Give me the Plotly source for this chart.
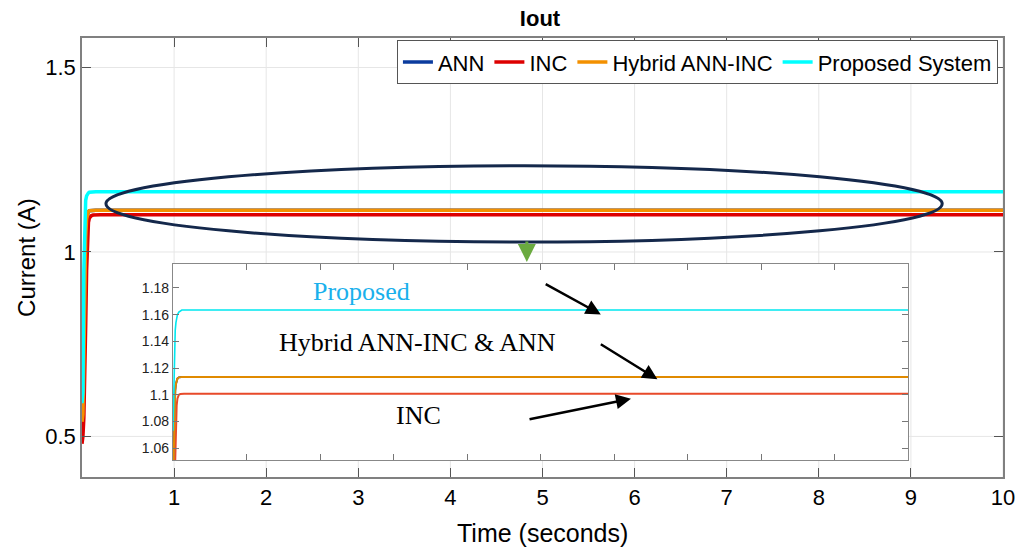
import plotly.graph_objects as go

# ---------------- data ----------------
# main plot time base (s)
t_main = [0.0, 0.01, 0.02, 0.03, 0.04, 0.05, 0.06, 0.07, 0.08, 0.10, 0.12, 0.15, 0.20, 10.0]
ann_main = [0.54, 0.56, 0.70, 0.90, 1.04, 1.09, 1.105, 1.110, 1.112, 1.113, 1.1133, 1.1133, 1.1133, 1.1133]
inc_main = [0.48, 0.50, 0.55, 0.65, 0.80, 0.95, 1.05, 1.08, 1.092, 1.098, 1.100, 1.1007, 1.1007, 1.1007]
hyb_main = [0.54, 0.56, 0.70, 0.90, 1.04, 1.09, 1.105, 1.110, 1.112, 1.113, 1.1133, 1.1133, 1.1133, 1.1133]
prop_main = [0.59, 0.62, 0.95, 1.10, 1.14, 1.152, 1.158, 1.160, 1.162, 1.163, 1.1635, 1.1635, 1.1635, 1.1635]

# inset (zoomed) series
t_ins = [0.0, 0.01, 0.02, 0.03, 0.04, 0.05, 0.06, 0.08, 0.10, 0.12, 0.15, 10.0]
ann_ins = [1.03, 1.06, 1.09, 1.103, 1.108, 1.110, 1.112, 1.113, 1.1133, 1.1133, 1.1133, 1.1133]
inc_ins = [1.00, 1.01, 1.03, 1.05, 1.08, 1.092, 1.097, 1.100, 1.1005, 1.1007, 1.1007, 1.1007]
hyb_ins = [1.03, 1.06, 1.09, 1.103, 1.108, 1.110, 1.112, 1.113, 1.1133, 1.1133, 1.1133, 1.1133]
prop_ins = [1.073, 1.10, 1.135, 1.148, 1.154, 1.158, 1.160, 1.162, 1.163, 1.1635, 1.1635, 1.1635]

series_names = ["ANN", "INC", "Hybrid ANN-INC", "Proposed System"]
main_colors = ["#0b3b9e", "#dd0000", "#f39000", "#00ffff"]
inset_colors = ["#0b3b9e", "#e84a2a", "#e08a00", "#00e8f0"]

x_ticks = [1, 2, 3, 4, 5, 6, 7, 8, 9, 10]
y_ticks = [0.5, 1.0, 1.5]
y_ticktext = ["0.5", "1", "1.5"]
ins_x_ticks = [0, 1, 2, 3, 4, 5, 6, 7, 8, 9, 10]
ins_y_ticks = [1.06, 1.08, 1.10, 1.12, 1.14, 1.16, 1.18]
ins_y_ticktext = ["1.06", "1.08", "1.1", "1.12", "1.14", "1.16", "1.18"]

main_xrange = [0, 10]
main_yrange = [0.39, 1.58]
ins_xrange = [0, 10]
ins_yrange = [1.051, 1.198]
ins_xdomain = [0.0988, 0.8969]
ins_ydomain = [0.0387, 0.4852]

# ---------------- figure ----------------
fig = go.Figure()
main_vals = [ann_main, inc_main, hyb_main, prop_main]
for name, col, vals in zip(series_names, main_colors, main_vals):
    fig.add_trace(go.Scatter(x=t_main, y=vals, mode="lines", name=name,
                             line=dict(color=col, width=3.5), xaxis="x", yaxis="y"))

ins_vals = [ann_ins, inc_ins, hyb_ins, prop_ins]
ins_widths = [2, 2, 2, 1.6]
for name, col, vals, w in zip(series_names, inset_colors, ins_vals, ins_widths):
    fig.add_trace(go.Scatter(x=t_ins, y=vals, mode="lines", name=name, showlegend=False,
                             line=dict(color=col, width=w), xaxis="x2", yaxis="y2"))

axis_font = dict(family="Liberation Sans, Arial", size=22, color="#000")
fig.update_layout(
    width=1017, height=548,
    margin=dict(l=82, r=14, t=38, b=71, autoexpand=False),
    paper_bgcolor="white", plot_bgcolor="white",
    font=dict(family="Liberation Sans, Arial", color="#000"),
    title=dict(text="<b>Iout</b>", x=0.531, xref="container", xanchor="center",
               y=0.967, yref="container", yanchor="middle",
               font=dict(family="Liberation Sans, Arial", size=22, color="#000")),
    xaxis=dict(domain=[0, 1], range=main_xrange, tickvals=x_ticks, ticks="inside", ticklen=9,
               tickcolor="#555", showline=True, linecolor="#808080", linewidth=1.5,
               mirror="allticks", showgrid=False,
               zeroline=False, tickfont=axis_font, automargin=False),
    yaxis=dict(domain=[0, 1], range=main_yrange, tickvals=y_ticks, ticktext=y_ticktext,
               ticks="inside", ticklen=9, tickcolor="#555", showline=True,
               linecolor="#808080", linewidth=1.5, mirror="allticks", showgrid=False,
               zeroline=False, tickfont=axis_font, automargin=False),
    xaxis2=dict(domain=ins_xdomain, anchor="y2", range=ins_xrange, tickvals=ins_x_ticks,
                showticklabels=False, ticks="inside", ticklen=6, tickcolor="#777",
                showline=True, linecolor="#888", linewidth=1.2, mirror="allticks",
                showgrid=False, zeroline=False, automargin=False),
    yaxis2=dict(domain=ins_ydomain, anchor="x2", range=ins_yrange,
                tickvals=ins_y_ticks, ticktext=ins_y_ticktext, ticks="inside", ticklen=6,
                tickcolor="#777", showline=True, linecolor="#888", linewidth=1.2,
                mirror="allticks", showgrid=False, zeroline=False, automargin=False,
                tickfont=dict(family="Liberation Sans, Arial", size=14, color="#222")),
    legend=dict(orientation="h", x=0.9945, xanchor="right", y=0.995, yanchor="top",
                bgcolor="white", bordercolor="#555", borderwidth=1,
                font=dict(family="Liberation Sans, Arial", size=22, color="#000"),
                itemwidth=30, tracegroupgap=0),
    showlegend=True,
)

# main grid drawn as shapes, interrupted where the inset covers it
ix0 = main_xrange[0] + ins_xdomain[0] * (main_xrange[1] - main_xrange[0])
ix1 = main_xrange[0] + ins_xdomain[1] * (main_xrange[1] - main_xrange[0])
iy0 = main_yrange[0] + ins_ydomain[0] * (main_yrange[1] - main_yrange[0])
iy1 = main_yrange[0] + ins_ydomain[1] * (main_yrange[1] - main_yrange[0])
grid_line = dict(color="#e6e6e6", width=1)
for xv in x_ticks:
    if ix0 <= xv <= ix1:
        segs = [(main_yrange[0], iy0), (iy1, main_yrange[1])]
    else:
        segs = [(main_yrange[0], main_yrange[1])]
    for a, b in segs:
        fig.add_shape(type="line", xref="x", yref="y", x0=xv, x1=xv, y0=a, y1=b,
                      line=grid_line, layer="below")
for yv in y_ticks:
    if iy0 <= yv <= iy1:
        segs = [(main_xrange[0], ix0), (ix1, main_xrange[1])]
    else:
        segs = [(main_xrange[0], main_xrange[1])]
    for a, b in segs:
        fig.add_shape(type="line", xref="x", yref="y", x0=a, x1=b, y0=yv, y1=yv,
                      line=grid_line, layer="below")

# ellipse highlighting steady-state region
fig.add_shape(type="circle", xref="x", yref="y", x0=0.26, x1=9.34, y0=1.027, y1=1.234,
              line=dict(color="#14284b", width=3), layer="above")

# green arrow pointing to the inset
fig.add_annotation(x=4.83, y=0.973, xref="x", yref="y", ax=0, ay=-22, text="",
                   showarrow=True, arrowhead=2, arrowsize=1.2, arrowwidth=3,
                   arrowcolor="#6aaa3f")

# inset labels
serif = "Liberation Serif, Times New Roman"
fig.add_annotation(x=2.56, y=1.1775, xref="x2", yref="y2", text="Proposed", showarrow=False,
                   font=dict(family=serif, size=26, color="#1ab0ec"))
fig.add_annotation(x=3.33, y=1.1388, xref="x2", yref="y2", text="Hybrid ANN-INC &amp; ANN",
                   showarrow=False, font=dict(family=serif, size=26, color="#000"))
fig.add_annotation(x=3.34, y=1.0846, xref="x2", yref="y2", text="INC", showarrow=False,
                   font=dict(family=serif, size=26, color="#000"))

# black pointer arrows in the inset
for (tx, ty, hx, hy) in [(5.05, 1.1835, 5.82, 1.1602),
                         (5.80, 1.1385, 6.59, 1.1115),
                         (4.83, 1.0813, 6.23, 1.0970)]:
    fig.add_annotation(x=hx, y=hy, xref="x2", yref="y2", ax=tx, ay=ty, axref="x2", ayref="y2",
                       text="", showarrow=True, arrowhead=2, arrowsize=1.2, arrowwidth=2.5,
                       arrowcolor="#000")

# axis titles
fig.add_annotation(x=0.5, y=-0.1276, xref="paper", yref="paper", text="Time (seconds)",
                   showarrow=False, yanchor="middle",
                   font=dict(family="Liberation Sans, Arial", size=25, color="#000"))
fig.add_annotation(x=-0.0597, y=0.499, xref="paper", yref="paper", text="Current (A)",
                   showarrow=False, textangle=-90, xanchor="center", yanchor="middle",
                   font=dict(family="Liberation Sans, Arial", size=24, color="#000"))

fig.write_html("out.html")
